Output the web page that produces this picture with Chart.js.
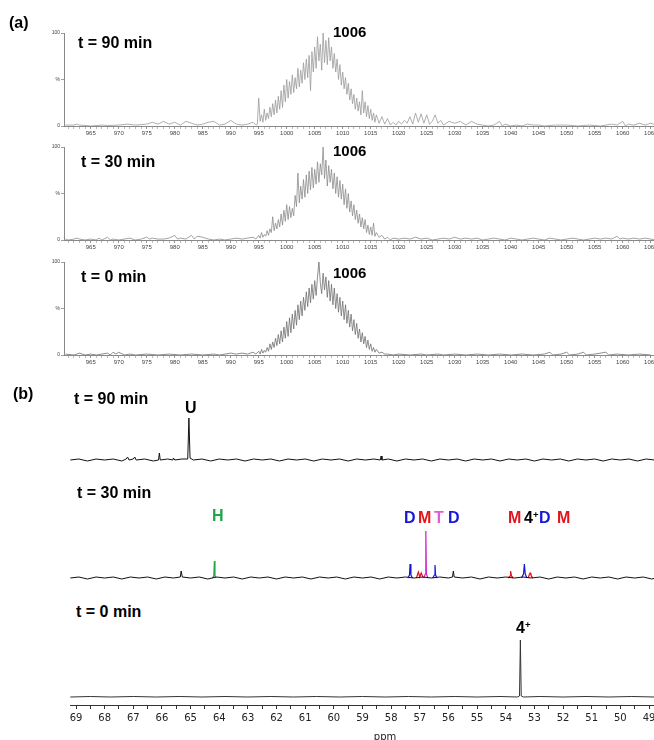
<!DOCTYPE html>
<html><head><meta charset="utf-8">
<script src="https://cdn.jsdelivr.net/npm/chart.js@4.4.1/dist/chart.umd.min.js"></script>
<style>
html,body{margin:0;padding:0;width:654px;height:740px;overflow:hidden;background:#fff;position:relative;}
canvas{position:absolute;left:0;}
.t{position:absolute;font-family:Arial,'Liberation Sans',sans-serif;font-weight:bold;white-space:nowrap;line-height:1;color:#000;}
.t sup{font-size:60%;vertical-align:0;position:relative;top:-0.55em;}
</style></head><body>
<canvas id="ms90" width="700" height="120" style="top:20px"></canvas>
<canvas id="ms30" width="700" height="120" style="top:134px"></canvas>
<canvas id="ms0" width="700" height="120" style="top:249px"></canvas>
<canvas id="nmr90" width="720" height="70" style="top:400px"></canvas>
<canvas id="nmr30" width="720" height="68" style="top:520px"></canvas>
<canvas id="nmr0" width="720" height="115" style="top:630px"></canvas>

<div class="t" style="left:9px;top:15px;font-size:16px">(a)</div>
<div class="t" style="left:78px;top:35px;font-size:16px">t = 90 min</div>
<div class="t" style="left:333px;top:24px;font-size:15px">1006</div>
<div class="t" style="left:81px;top:154px;font-size:16px">t = 30 min</div>
<div class="t" style="left:333px;top:143px;font-size:15px">1006</div>
<div class="t" style="left:81px;top:269px;font-size:16px">t = 0 min</div>
<div class="t" style="left:333px;top:265px;font-size:15px">1006</div>

<div class="t" style="left:13px;top:386px;font-size:16px">(b)</div>
<div class="t" style="left:74px;top:391px;font-size:16px">t = 90 min</div>
<div class="t" style="left:185px;top:400px;font-size:16px">U</div>
<div class="t" style="left:77px;top:485px;font-size:16px">t = 30 min</div>
<div class="t" style="left:212px;top:508px;font-size:16px;color:#1fa64c">H</div>
<div class="t" style="left:404px;top:510px;font-size:16px;color:#1717d6">D</div>
<div class="t" style="left:418px;top:510px;font-size:16px;color:#e3121b">M</div>
<div class="t" style="left:434px;top:510px;font-size:16px;color:#e25cd6">T</div>
<div class="t" style="left:448px;top:510px;font-size:16px;color:#1717d6">D</div>
<div class="t" style="left:508px;top:510px;font-size:16px;color:#e3121b">M</div>
<div class="t" style="left:524px;top:510px;font-size:16px">4<sup>+</sup></div>
<div class="t" style="left:539px;top:510px;font-size:16px;color:#1717d6">D</div>
<div class="t" style="left:557px;top:510px;font-size:16px;color:#e3121b">M</div>
<div class="t" style="left:76px;top:604px;font-size:16px">t = 0 min</div>
<div class="t" style="left:516px;top:620px;font-size:16px">4<sup>+</sup></div>

<script>
// ---------- (a) mass spectra: [m/z, relative intensity %] ----------
const ms90 = [[960.5,1],[962,1],[962.5,2],[963,1],[965,0],[967,1],[968,0.5],[970,1],[971.5,2],[973,1],[975,2],[976,4],[977,2],[978,5],[979,2],[980,4],[981,1],[982,5],[983,3],[984,1],[985,2],[986,4],[987,5],[988,1],[989,2],[990,6],[991,2],[992,1],[993,2],[994,4],[994.5,1],
[994.75,2],[995,30],[995.25,5],[995.5,12],[995.75,4],[996,18],[996.25,6],[996.5,14],[996.75,8],[997,20],[997.25,10],[997.5,24],[997.75,12],[998,28],[998.25,14],[998.5,32],[998.75,18],[999,38],[999.25,20],[999.5,44],[999.75,26],[1000,50],[1000.25,30],[1000.5,48],[1000.75,34],[1001,55],[1001.25,36],[1001.5,52],[1001.75,40],[1002,62],[1002.25,42],[1002.5,60],[1002.75,46],[1003,68],[1003.25,50],[1003.5,72],[1003.75,52],[1004,76],[1004.25,38],[1004.5,80],[1004.75,58],[1005,85],[1005.25,62],[1005.5,96],[1005.75,70],[1006,88],[1006.25,60],[1006.5,100],[1006.75,68],[1007,92],[1007.25,66],[1007.5,95],[1007.75,70],[1008,85],[1008.25,62],[1008.5,78],[1008.75,58],[1009,72],[1009.25,50],[1009.5,66],[1009.75,44],[1010,58],[1010.25,40],[1010.5,52],[1010.75,34],[1011,46],[1011.25,28],[1011.5,40],[1011.75,24],[1012,34],[1012.25,18],[1012.5,30],[1012.75,16],[1013,26],[1013.25,12],[1013.5,38],[1013.75,14],[1014,26],[1014.25,10],[1014.5,22],[1014.75,8],[1015,18],[1015.25,6],[1015.5,14],[1015.75,4],[1016,12],[1016.5,3],[1017,10],[1017.5,2],[1018,8],[1018.5,1],[1019,4],[1019.5,1],[1020,5],[1020.5,2],[1021,6],[1021.5,3],[1022,10],[1022.5,2],[1023,14],[1023.5,4],[1024,13],[1024.5,3],[1025,12],[1025.5,2],[1026,5],[1026.5,12],[1027,3],[1027.5,6],[1028,1],[1029,5],[1030,3],[1031,5],[1032,1],[1033,5],[1034,2],[1035,1],[1036,0],[1037,1],[1038,5],[1038.5,0],[1039,2],[1040,0],[1041,1],[1042,0],[1043,2],[1044,1],[1045,1],[1046,0],[1048,1],[1050,1],[1052,0],[1054,1],[1056,0],[1058,2],[1059,1],[1060,5],[1060.5,0],[1061,2],[1062,1],[1063,3],[1064,1],[1065,3],[1066,1]];

const ms30 = [[960.5,1],[961,0],[962,1],[962.5,2],[963,1],[964,0],[965,1],[966,0],[966.5,2],[967,0],[968,3],[968.5,0],[969,1],[970,0],[971,1],[972,2],[973,0],[974,1],[975,3],[975.5,1],[976,2],[977,1],[978,1],[979,2],[980,5],[980.5,1],[981,2],[982,1],[983,5],[983.5,1],[984,4],[985,3],[986,1],[987,0],[988,1],[989,0],[990,1],[991,2],[992,1],[993,2],[994,3],[994.5,1],
[995,5],[995.25,2],[995.5,8],[995.75,3],[996,6],[996.25,4],[996.5,10],[996.75,5],[997,12],[997.25,8],[997.5,25],[997.75,10],[998,18],[998.25,12],[998.5,22],[998.75,14],[999,28],[999.25,16],[999.5,32],[999.75,20],[1000,38],[1000.25,22],[1000.5,36],[1000.75,24],[1001,34],[1001.25,26],[1001.5,48],[1001.75,36],[1002,72],[1002.25,40],[1002.5,58],[1002.75,44],[1003,65],[1003.25,46],[1003.5,70],[1003.75,50],[1004,74],[1004.25,54],[1004.5,78],[1004.75,56],[1005,76],[1005.25,60],[1005.5,84],[1005.75,62],[1006,82],[1006.25,70],[1006.5,100],[1006.75,66],[1007,86],[1007.25,58],[1007.5,80],[1007.75,62],[1008,76],[1008.25,55],[1008.5,72],[1008.75,50],[1009,68],[1009.25,46],[1009.5,64],[1009.75,44],[1010,60],[1010.25,38],[1010.5,55],[1010.75,34],[1011,50],[1011.25,30],[1011.5,42],[1011.75,26],[1012,38],[1012.25,22],[1012.5,32],[1012.75,18],[1013,28],[1013.25,14],[1013.5,24],[1013.75,12],[1014,22],[1014.25,8],[1014.5,16],[1014.75,6],[1015,14],[1015.25,5],[1015.5,18],[1015.75,4],[1016,8],[1016.5,3],[1017,5],[1017.5,1],[1018,3],[1018.5,0],[1019,2],[1020,1],[1021,2],[1022,1],[1023,3],[1024,1],[1025,2],[1026,0],[1027,1],[1028,2],[1029,1],[1030,3],[1031,1],[1032,2],[1033,1],[1034,2],[1035,0],[1036,1],[1037,2],[1038,1],[1039,0],[1040,2],[1041,1],[1042,0],[1043,1],[1044,2],[1045,1],[1046,0],[1047,2],[1048,1],[1049,0],[1050,1],[1051,2],[1052,1],[1053,0],[1054,1],[1055,2],[1056,1],[1057,2],[1058,1],[1059,4],[1059.5,1],[1060,2],[1061,1],[1062,2],[1063,1],[1064,2],[1065,1],[1066,0]];

const ms0 = [[960.5,1],[962,0],[963,2],[964,0],[965,1],[966,0],[967,1],[968,2],[968.5,0],[969,3],[969.5,1],[970,3],[971,0],[972,1],[973,0],[975,1],[977,0],[979,1],[981,0],[983,1],[985,0],[987,1],[988,0],[990,2],[991,1],[992,2],[993,1],[994,3],[994.5,1],
[995,4],[995.25,1],[995.5,6],[995.75,2],[996,5],[996.25,3],[996.5,8],[996.75,4],[997,12],[997.25,6],[997.5,14],[997.75,8],[998,18],[998.25,10],[998.5,22],[998.75,12],[999,26],[999.25,14],[999.5,30],[999.75,18],[1000,36],[1000.25,20],[1000.5,40],[1000.75,24],[1001,44],[1001.25,28],[1001.5,48],[1001.75,32],[1002,54],[1002.25,38],[1002.5,58],[1002.75,42],[1003,62],[1003.25,48],[1003.5,68],[1003.75,52],[1004,72],[1004.25,56],[1004.5,76],[1004.75,60],[1005,80],[1005.25,64],[1005.5,84],[1005.75,100],[1006,78],[1006.25,66],[1006.5,88],[1006.75,70],[1007,84],[1007.25,62],[1007.5,80],[1007.75,58],[1008,76],[1008.25,54],[1008.5,72],[1008.75,50],[1009,66],[1009.25,46],[1009.5,62],[1009.75,42],[1010,58],[1010.25,38],[1010.5,54],[1010.75,34],[1011,48],[1011.25,30],[1011.5,44],[1011.75,26],[1012,38],[1012.25,22],[1012.5,34],[1012.75,18],[1013,28],[1013.25,14],[1013.5,24],[1013.75,12],[1014,20],[1014.25,8],[1014.5,16],[1014.75,6],[1015,12],[1015.25,4],[1015.5,8],[1015.75,3],[1016,6],[1016.5,2],[1017,3],[1017.5,1],[1018,1],
[1019,0],[1020,1],[1022,0],[1024,1],[1025,0],[1027,1],[1028,0],[1030,1],[1032,0],[1034,1],[1036,0],[1038,1],[1040,0],[1042,1],[1044,0],[1046,1],[1047,3],[1047.5,0],[1049,1],[1050,3],[1050.5,0],[1052,1],[1053,3],[1053.5,0],[1055,1],[1057,3],[1057.5,0],[1059,1],[1061,0],[1063,1],[1065,0]];

const msYTicks = [0, 50, 100];
const msYLabels = ['0', '%', '100'];

// ---------- (b) 31P NMR spectra: [ppm, intensity] ----------
const nmr90 = [[69.2,0],[68.9,1],[68.6,-1],[68.3,1],[68,0],[67.7,1],[67.4,-1],[67.25,1],[67.2,3],[67.15,0],[67.0,1],[66.95,3],[66.9,0],[66.6,1],[66.3,-1],[66.12,0],[66.09,7],[66.06,0],[65.8,1],[65.62,0],[65.6,2],[65.55,0],[65.3,1],[65.1,1],[65.06,42],[65.02,2],[64.9,0],[64.6,1],[64.3,-1],[64,1],[63.7,0],[63.4,1],[63.1,-1],[62.8,1],[62.5,0],[62.2,1],[61.9,-1],[61.6,1],[61.3,0],[61,1],[60.7,-1],[60.4,1],[60.1,0],[59.8,1],[59.5,-1],[59.2,1],[58.9,0],[58.6,1],[58.38,0],[58.35,4],[58.32,0],[58.1,1],[57.8,-1],[57.5,1],[57.2,0],[56.9,1],[56.6,-1],[56.3,1],[56,0],[55.7,1],[55.4,-1],[55.1,1],[54.8,0],[54.5,1],[54.2,-1],[53.9,1],[53.6,0],[53.3,1],[53,-1],[52.7,1],[52.4,0],[52.1,1],[51.8,-1],[51.5,1],[51.2,0],[50.9,1],[50.6,-1],[50.3,1],[50,0],[49.7,1],[49.4,-1],[49.1,1],[48.8,0],[48.5,1],[48.2,-1],[47.9,1],[47.5,0]];

const nmr30 = [[69.2,0],[68.9,1],[68.6,-1],[68.3,1],[68,0],[67.7,1],[67.4,-1],[67.1,1],[66.8,0],[66.5,1],[66.2,-1],[65.9,1],[65.6,0],[65.36,1],[65.33,7],[65.29,1],[65.0,0],[64.7,1],[64.4,-1],[64.1,1],[63.8,0],[63.5,1],[63.2,-1],[62.9,1],[62.6,0],[62.3,1],[62,-1],[61.7,1],[61.4,0],[61.1,1],[60.8,-1],[60.5,1],[60.2,0],[59.9,1],[59.6,-1],[59.3,1],[59,0],[58.7,1],[58.4,-1],[58.1,1],[57.8,0],[57.5,1],[57.2,0],[56.9,1],[56.6,0],[56.3,1],[56,0],[55.86,1],[55.83,7],[55.8,1],[55.5,0],[55.2,1],[54.9,-1],[54.6,1],[54.3,0],[54,1],[53.7,0],[53.4,1],[53.1,0],[52.8,1],[52.5,-1],[52.2,1],[51.9,0],[51.6,1],[51.3,-1],[51,1],[50.7,0],[50.4,1],[50.1,-1],[49.8,1],[49.5,0],[49.2,1],[48.9,-1],[48.6,1],[48.3,0],[48,1],[47.5,0]];
const nmr30H  = [[64.24,0],[64.19,2],[64.17,17],[64.15,2],[64.1,0]];
const nmr30D1 = [[57.42,0],[57.36,3],[57.34,14],[57.31,3],[57.26,0]];
const nmr30M1 = [[57.12,0],[57.05,6],[57.0,1],[56.95,5],[56.88,0]];
const nmr30T  = [[56.86,0],[56.81,4],[56.79,47],[56.77,4],[56.72,0]];
const nmr30D2 = [[56.55,0],[56.49,3],[56.47,13],[56.45,3],[56.4,0]];
const nmr30M2 = [[53.92,0],[53.85,2],[53.83,7],[53.8,2],[53.74,0]];
const nmr30D3 = [[53.45,0],[53.38,4],[53.35,14],[53.32,4],[53.26,0]];
const nmr30M3 = [[53.22,0],[53.17,4],[53.15,5],[53.12,3],[53.06,0]];

const nmr0 = [[69.2,0],[68.5,0.5],[67.8,0],[67,0.5],[66.2,0],[65.4,0.5],[64.6,0],[63.8,0.5],[63,0],[62.2,0.5],[61.4,0],[60.6,0.5],[59.8,0],[59,0.5],[58.2,0],[57.4,0.5],[56.6,0],[55.8,0.5],[55,0],[54.2,0.5],[53.6,0],[53.52,1],[53.49,57],[53.46,1],[53.38,0],[52.8,0.5],[52,0],[51.2,0.5],[50.4,0],[49.6,0.5],[48.8,0],[48,0.5],[47.5,0]];

const ppmTickStep = 0.5;

// ---------- helpers ----------
const pts = a => a.map(p => ({x: p[0], y: p[1]}));
const base = {responsive:false, animation:false, events:[], plugins:{legend:{display:false}, tooltip:{enabled:false}}};

function msChart(id, data, color) {
  new Chart(document.getElementById(id), {
    type: 'line',
    data: {datasets: [{data: pts(data), borderColor: color, borderWidth: 0.8, pointRadius: 0, tension: 0, fill: false}]},
    options: Object.assign({}, base, {
      layout: {padding: {left: 50, top: 13, right: 0, bottom: 0}},
      scales: {
        x: {type: 'linear', min: 960.23, max: 1073.8,
            afterBuildTicks: s => { const t = []; for (let v = Math.ceil(s.min); v <= s.max; v++) t.push({value: v}); s.ticks = t; },
            afterFit: s => { s.height = 14; },
            grid: {drawOnChartArea: false, tickLength: 3, tickColor: c => (c.tick && c.tick.value % 5 === 0) ? '#777' : '#aaa', tickWidth: 0.8},
            border: {color: '#888', width: 1},
            ticks: {autoSkip: false, maxRotation: 0, padding: 1, color: '#444', font: {size: 6, family: 'Arial'},
                    callback: v => v % 5 === 0 ? String(v) : ''}},
        y: {min: 0, max: 100,
            afterBuildTicks: s => { s.ticks = msYTicks.map(v => ({value: v})); },
            afterFit: s => { s.width = 14; },
            grid: {drawOnChartArea: false, tickLength: 3, tickColor: '#888', tickWidth: 0.8},
            border: {color: '#888', width: 1},
            ticks: {padding: 1, color: '#444', font: {size: 5, family: 'Arial'},
                    callback: v => msYLabels[msYTicks.indexOf(v)]}}
      }
    })
  });
}
msChart('ms90', ms90, '#9a9a9a');
msChart('ms30', ms30, '#8c8c8c');
msChart('ms0', ms0, '#707070');

function line(d, color, w) { return {data: pts(d), borderColor: color, borderWidth: w || 1, pointRadius: 0, tension: 0, fill: false}; }

function nmrChart(id, datasets, ymin, ymax, showAxis) {
  new Chart(document.getElementById(id), {
    type: 'line',
    data: {datasets: datasets},
    options: Object.assign({}, base, {
      layout: {padding: {left: 70, right: 20, top: 0, bottom: 0}},
      scales: {
        x: {type: 'linear', reverse: true, min: 47.22, max: 69.21, display: showAxis,
            afterBuildTicks: s => { const t = []; for (let v = Math.ceil(s.min / ppmTickStep) * ppmTickStep; v <= s.max; v += ppmTickStep) t.push({value: v}); s.ticks = t; },
            afterFit: s => { s.height = showAxis ? 40 : 0; },
            grid: {drawOnChartArea: false, tickLength: 4, tickColor: '#333', tickWidth: 1},
            border: {color: '#333', width: 1},
            ticks: {autoSkip: false, maxRotation: 0, padding: 3, color: '#222', font: {size: 10, family: 'DejaVu Sans'},
                    callback: v => Number.isInteger(v) ? String(v) : ''},
            title: {display: true, text: 'ppm', color: '#222', font: {size: 10, family: 'DejaVu Sans'}, padding: {top: 0, bottom: 2}}},
        y: {display: false, min: ymin, max: ymax, afterFit: s => { s.width = 0; }}
      }
    })
  });
}

nmrChart('nmr90', [line(nmr90, '#111', 1)], -10, 60, false);
nmrChart('nmr30', [
  line(nmr30, '#111', 1),
  line(nmr30H, '#1fa64c', 1.2),
  line(nmr30D1, '#1717d6', 1.2),
  line(nmr30M1, '#e3121b', 1.2),
  line(nmr30T, '#cc22cc', 1.2),
  line(nmr30D2, '#1717d6', 1.2),
  line(nmr30M2, '#e3121b', 1.2),
  line(nmr30D3, '#1717d6', 1.2),
  line(nmr30M3, '#e3121b', 1.2)
], -10, 58, false);
nmrChart('nmr0', [line(nmr0, '#333', 1)], -8, 67, true);
</script>
</body></html>
